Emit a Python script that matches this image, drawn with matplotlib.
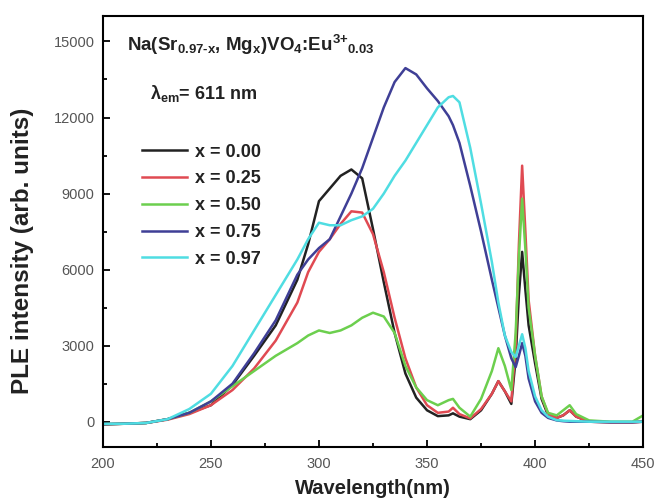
import matplotlib
matplotlib.use("Agg")
import matplotlib.pyplot as plt
from matplotlib.ticker import MultipleLocator

plt.rcParams["font.family"] = ["Liberation Sans", "DejaVu Sans"]
plt.rcParams["mathtext.fontset"] = "custom"
plt.rcParams["mathtext.rm"] = "Liberation Sans:bold"
plt.rcParams["mathtext.it"] = "Liberation Sans:bold"
plt.rcParams["mathtext.bf"] = "Liberation Sans:bold"

# excitation wavelength grid (nm)
wavelength = [200, 210, 220, 230, 240, 250, 260, 270, 280, 290, 295, 300,
              305, 310, 315, 320, 325, 330, 335, 340, 345, 350, 355, 360,
              362, 365, 370, 375, 380, 383, 386, 389, 391, 392.5, 394, 395.5,
              397, 400, 403, 406, 410, 413, 416, 419, 425, 435, 445, 450]

# PLE intensity (arb. units), monitored at 611 nm
ple_000 = [-100, -80, -50, 100, 350, 650, 1450, 2600, 3800, 5600, 7000, 8700,
           9200, 9700, 9950, 9600, 7600, 5500, 3500, 1900, 950, 450, 220, 250,
           330, 200, 100, 450, 1100, 1600, 1200, 700, 2500, 5000, 6700, 5200,
           3800, 2300, 900, 250, 150, 250, 450, 200, 0, -20, -20, 0]
ple_025 = [-100, -80, -50, 80, 300, 650, 1250, 2100, 3200, 4700, 5900, 6700,
           7200, 7800, 8300, 8250, 7400, 5900, 4100, 2500, 1350, 650, 350, 400,
           550, 300, 130, 500, 1100, 1600, 1200, 800, 3000, 7000, 10100, 7500,
           4800, 2600, 1000, 300, 150, 250, 450, 200, 0, -20, -20, 0]
ple_050 = [-100, -80, -50, 100, 350, 800, 1400, 2000, 2600, 3100, 3400, 3600,
           3500, 3600, 3800, 4100, 4300, 4150, 3500, 2200, 1350, 850, 650, 850,
           900, 550, 200, 900, 2000, 2900, 2200, 1250, 3500, 6500, 8800, 6800,
           4500, 2600, 1000, 350, 250, 450, 650, 300, 50, 0, 0, 250]
ple_075 = [-100, -80, -50, 100, 350, 800, 1500, 2700, 4000, 5800, 6400, 6850,
           7200, 8100, 9000, 10000, 11200, 12400, 13400, 13950, 13700, 13150,
           12650, 12050, 11700, 11000, 9300, 7500, 5600, 4500, 3400, 2500, 2150,
           2600, 3100, 2600, 1700, 800, 350, 150, 50, 20, 0, 0, 0, -20, -20, 0]
ple_097 = [-80, -80, -50, 100, 500, 1100, 2200, 3600, 5000, 6400, 7200, 7850,
           7750, 7750, 7950, 8100, 8400, 9000, 9700, 10300, 11000, 11700, 12400,
           12800, 12850, 12600, 10800, 8600, 6300, 4700, 3400, 2750, 2550, 3000,
           3450, 2900, 2000, 1000, 450, 200, 60, 40, 30, 20, 0, 0, 0, 0]

labels = ["x = 0.00", "x = 0.25", "x = 0.50", "x = 0.75", "x = 0.97"]
colors = ["#222222", "#e04a52", "#6ccf4e", "#3f3f96", "#4fdde2"]
series = [ple_000, ple_025, ple_050, ple_075, ple_097]

fig = plt.figure(figsize=(6.59, 5.04), dpi=100)
ax = fig.add_axes([0.156, 0.113, 0.82, 0.855])

for y, c, lab in zip(series, colors, labels):
    ax.plot(wavelength, y, color=c, lw=1.8, label=lab)

ax.set_xlim(200, 450)
ax.set_ylim(-1000, 16000)
ax.xaxis.set_major_locator(MultipleLocator(50))
ax.xaxis.set_minor_locator(MultipleLocator(25))
ax.yaxis.set_major_locator(MultipleLocator(3000))
ax.yaxis.set_minor_locator(MultipleLocator(1500))
ax.tick_params(which="both", direction="in", top=False, right=False,
               labelsize=10.5, labelcolor="#555555", width=1.3)
ax.tick_params(which="major", length=5)
ax.tick_params(axis="x", which="both", pad=7)
ax.tick_params(axis="y", which="both", pad=6)
ax.tick_params(which="minor", length=3)
for s in ax.spines.values():
    s.set_linewidth(1.5)

ax.set_xlabel("Wavelength(nm)", fontsize=14.5, fontweight="bold", color="#222222")
ax.xaxis.set_label_coords(0.5, -0.074)
ax.set_ylabel("PLE intensity (arb. units)", fontsize=17.5, fontweight="bold", color="#222222")
ax.yaxis.set_label_coords(-0.148, 0.455)
ax.yaxis.label.set_va("center")

ax.text(0.044, 0.933, r"Na(Sr$_{0.97\text{-}x}$, Mg$_x$)VO$_4$:Eu$^{3\text{+}}$$_{0.03}$",
        transform=ax.transAxes, fontsize=13.5, fontweight="bold", va="center", color="#222222")
ax.text(0.087, 0.821, r"$\lambda_{em}$= 611 nm", transform=ax.transAxes,
        fontsize=13, fontweight="bold", va="center", color="#222222")

leg = ax.legend(loc="upper left", bbox_to_anchor=(0.073, 0.704), frameon=False,
                prop={"size": 13, "weight": "bold"}, handlelength=2.5,
                handletextpad=0.4, labelspacing=0.54, borderpad=0, borderaxespad=0)
for t in leg.get_texts():
    t.set_color("#222222")

fig.savefig("out.png", dpi=100)
